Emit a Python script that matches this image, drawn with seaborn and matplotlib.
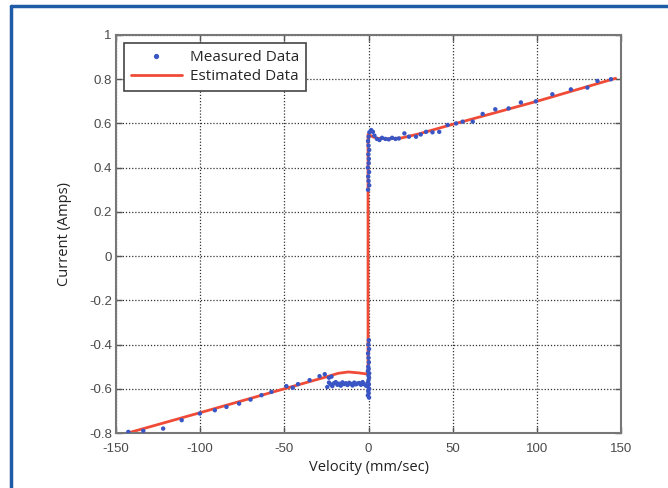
import numpy as np
import pandas as pd
import matplotlib
matplotlib.use("Agg")
import matplotlib.pyplot as plt
from matplotlib.lines import Line2D
import seaborn as sns

left_vel = [-142.7, -133.8, -122.0, -111.0, -100.2, -91.3, -84.4, -76.9, -70.1, -63.6,
            -57.7, -48.8, -45.0, -41.9, -35.0, -29.1, -26.0, -23.5, -22.0]
left_cur = [-0.795, -0.79, -0.78, -0.742, -0.712, -0.697, -0.682, -0.667, -0.649, -0.629,
            -0.614, -0.588, -0.595, -0.579, -0.561, -0.543, -0.534, -0.55, -0.545]

cluster_vel = [-24.5, -23.5, -22.5, -21.5, -20.5, -19.5, -18.5, -17.5, -16.5, -15.5, -14.5, -13.5,
               -12.5, -11.5, -10.5, -9.5, -8.5, -7.5, -6.5, -5.5, -4.5, -3.5, -2.5, -1.5]
cluster_cur = [-0.592, -0.572, -0.58, -0.588, -0.575, -0.57, -0.582, -0.577, -0.586, -0.571, -0.579, -0.575,
               -0.583, -0.573, -0.578, -0.585, -0.572, -0.58, -0.576, -0.574, -0.582, -0.57, -0.579, -0.586]

spike_vel = [0.3, -0.4, 0.1, -0.2, 0.4, -0.5, 0.2, -0.3, 0.0, 0.3, -0.1, 0.4, -0.4, 0.1, -0.2, 0.2, 0.0, -0.3, 0.3, -0.1,
             0.2, -0.3, 0.4, 0.0, -0.2, 0.3, -0.4, 0.1, 0.2, -0.1, 0.4, 0.0, -0.3, 0.1, 0.5]
spike_cur = [-0.64, -0.63, -0.62, -0.61, -0.6, -0.59, -0.58, -0.57, -0.56, -0.55, -0.54, -0.53, -0.52, -0.51,
             -0.5, -0.48, -0.46, -0.44, -0.42, -0.4, -0.38,
             0.3, 0.32, 0.34, 0.36, 0.38, 0.4, 0.42, 0.44, 0.46, 0.48, 0.5, 0.52, 0.54, 0.56]

right_vel = [1.6, 2.6, 3.5, 5.0, 6.5, 8.0, 10.0, 12.0, 14.0, 16.0, 18.0, 21.3, 24.0, 28.2, 31.0, 34.2,
             38.0, 42.0, 47.0, 52.0, 55.9, 61.9, 67.8, 75.3, 83.2, 90.5, 99.4, 109.2, 120.2, 130.0, 136.0, 144.0]
right_cur = [0.57, 0.562, 0.545, 0.53, 0.525, 0.535, 0.53, 0.528, 0.535, 0.53, 0.532, 0.555, 0.54, 0.54, 0.55, 0.562,
             0.56, 0.562, 0.593, 0.6, 0.608, 0.608, 0.643, 0.664, 0.668, 0.695, 0.70, 0.732, 0.754, 0.762, 0.792, 0.80]

# estimated model curve
est_vel = [-143.0, -100.0, -50.0, -25.0, -18.0, -12.0, -6.0, -1.0, -0.3, -0.3, 0.5, 3.0, 6.0, 12.0, 20.0,
           30.0, 50.0, 100.0, 146.8]
est_cur = [-0.80, -0.708, -0.600, -0.546, -0.530, -0.524, -0.528, -0.533, -0.533, 0.55, 0.548, 0.538, 0.532,
           0.530, 0.535, 0.553, 0.596, 0.70, 0.804]

measured = pd.DataFrame({
    "vel": left_vel + cluster_vel + spike_vel + right_vel,
    "cur": left_cur + cluster_cur + spike_cur + right_cur,
})
estimated = pd.DataFrame({"vel": est_vel, "cur": est_cur})

x_ticks = [-150, -100, -50, 0, 50, 100, 150]
y_ticks = [-0.8, -0.6, -0.4, -0.2, 0, 0.2, 0.4, 0.6, 0.8, 1]
y_labels = ["-0.8", "-0.6", "-0.4", "-0.2", "0", "0.2", "0.4", "0.6", "0.8", "1"]

sns.set_style("white")
plt.rcParams["font.family"] = ["Liberation Sans", "DejaVu Sans"]

fig = plt.figure(figsize=(6.68, 4.88), dpi=100)
ax = fig.add_axes([0.1737, 0.1127, 0.7560, 0.8156])

sns.scatterplot(data=measured, x="vel", y="cur", ax=ax, marker="o", s=10, color="#3a55c4",
                edgecolor="none", label="Measured Data", zorder=3)
sns.lineplot(data=estimated, x="vel", y="cur", ax=ax, estimator=None, sort=False,
             color="#f04b36", linewidth=2, label="Estimated Data", zorder=2)

ax.set_xlim(-150, 150)
ax.set_ylim(-0.8, 1)
ax.set_xticks(x_ticks)
ax.set_xticklabels([str(t) for t in x_ticks])
ax.set_yticks(y_ticks)
ax.set_yticklabels(y_labels)
ax.tick_params(direction="in", length=4, width=1, color="#555555", labelsize=9.5,
               labelcolor="#4a4a4a", top=True, right=True, bottom=True, left=True)
ax.tick_params(axis="x", pad=7)
ax.tick_params(axis="y", pad=3)
ax.grid(True, color="#333333", linestyle=(0, (1, 1.5)), linewidth=0.9)
for s in ax.spines.values():
    s.set_color("#777777")
    s.set_linewidth(1.5)

ax.set_xlabel("Velocity (mm/sec)", fontsize=10.5, color="#222222", labelpad=4,
              family=["Open Sans", "DejaVu Sans"])
ax.set_ylabel("Current (Amps)", fontsize=10.5, color="#222222", labelpad=12,
              family=["Open Sans", "DejaVu Sans"])

leg = ax.legend(loc="upper left", frameon=True, fancybox=False, borderaxespad=0.5,
                handlelength=3.4, handletextpad=0.5, labelspacing=0.3, borderpad=0.45, markerscale=1.2,
                prop={"family": ["Open Sans", "DejaVu Sans"], "size": 11})
leg.get_frame().set_edgecolor("#444444")
leg.get_frame().set_linewidth(1.2)
leg.get_frame().set_alpha(1)

# blue frame at the top and left of the page
fig.add_artist(Line2D([11 / 668, 1.0], [1 - 6 / 488, 1 - 6 / 488], transform=fig.transFigure,
                      color="#1f5ca8", linewidth=2.5))
fig.add_artist(Line2D([11 / 668, 11 / 668], [0.0, 1 - 6 / 488], transform=fig.transFigure,
                      color="#1f5ca8", linewidth=2.5))

fig.savefig("out.png", dpi=100)
plt.close(fig)
